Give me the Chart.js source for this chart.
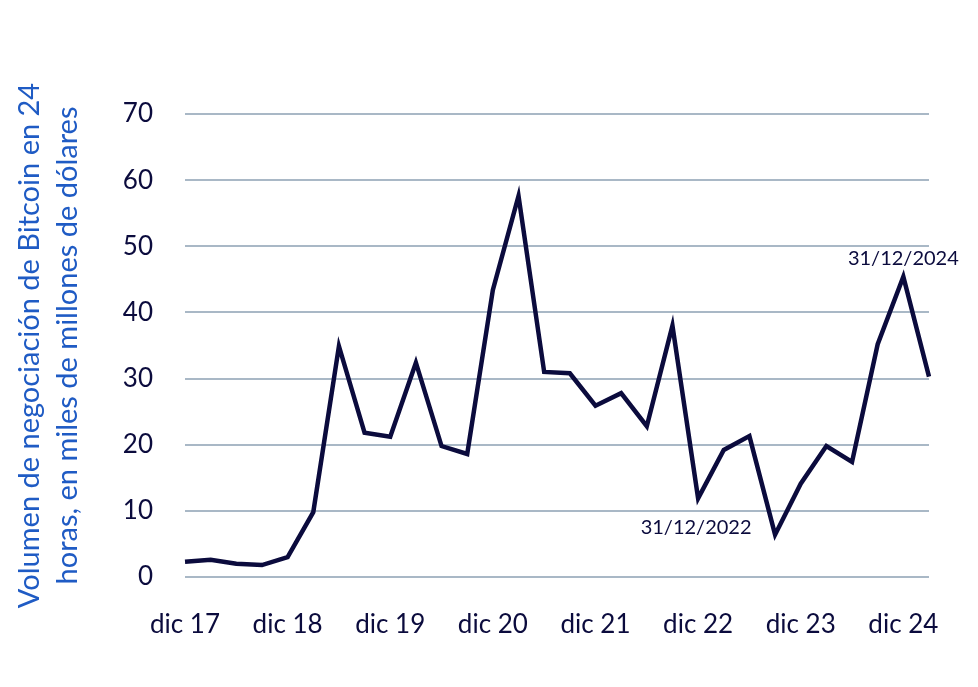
<!DOCTYPE html>
<html>
<head>
<meta charset="utf-8">
<script src="https://cdn.jsdelivr.net/npm/chart.js@4.4.1/dist/chart.umd.min.js"></script>
<style>
  html, body { margin: 0; padding: 0; background: #ffffff; }
  #wrap { width: 978px; height: 687px; }
</style>
</head>
<body>
<div id="wrap"><canvas id="chart" width="978" height="687"></canvas></div>
<script>
// trimestres, de dic 17 a mar 25
const quarters = [
  'dic 17', 'mar 18', 'jun 18', 'sep 18',
  'dic 18', 'mar 19', 'jun 19', 'sep 19',
  'dic 19', 'mar 20', 'jun 20', 'sep 20',
  'dic 20', 'mar 21', 'jun 21', 'sep 21',
  'dic 21', 'mar 22', 'jun 22', 'sep 22',
  'dic 22', 'mar 23', 'jun 23', 'sep 23',
  'dic 23', 'mar 24', 'jun 24', 'sep 24',
  'dic 24', 'mar 25'
];

// volumen 24h, miles de millones de dólares
const volume = [
  2.3, 2.6, 2.0, 1.8,
  3.0, 9.8, 34.9, 21.8,
  21.2, 32.4, 19.8, 18.6,
  43.4, 57.6, 31.0, 30.8,
  25.9, 27.8, 22.8, 38.0,
  11.9, 19.2, 21.3, 6.4,
  14.1, 19.8, 17.4, 35.2,
  45.4, 30.3
];

const yTicks = [0, 10, 20, 30, 40, 50, 60, 70];

// etiquetas de fecha sobre puntos concretos
const notes = [
  { index: 20, text: '31/12/2022', place: 'below' },
  { index: 28, text: '31/12/2024', place: 'above' }
];

const navy = '#0b0b3d';
const fontFamily = 'Lato, "Open Sans", sans-serif';

const notePlugin = {
  id: 'notes',
  afterDatasetsDraw(chart) {
    const { ctx, scales } = chart;
    ctx.save();
    ctx.font = '20px ' + fontFamily;
    ctx.fillStyle = navy;
    ctx.textAlign = 'center';
    notes.forEach(n => {
      const x = scales.x.getPixelForValue(n.index);
      const y = scales.y.getPixelForValue(volume[n.index]);
      if (n.place === 'above') {
        ctx.textBaseline = 'bottom';
        ctx.fillText(n.text, x, y - 8);
      } else {
        ctx.textBaseline = 'top';
        ctx.fillText(n.text, x - 2, y + 19);
      }
    });
    ctx.restore();
  }
};

new Chart(document.getElementById('chart'), {
  type: 'line',
  data: {
    labels: quarters,
    datasets: [{
      data: volume,
      borderColor: navy,
      borderWidth: 4.5,
      pointRadius: 0,
      tension: 0,
      fill: false
    }]
  },
  options: {
    responsive: false,
    animation: false,
    layout: { padding: { left: 0, top: 114, right: 49, bottom: 0 } },
    plugins: {
      legend: { display: false },
      tooltip: { enabled: false }
    },
    scales: {
      x: {
        type: 'category',
        offset: false,
        grid: { display: false },
        border: { display: false },
        ticks: {
          autoSkip: false,
          maxRotation: 0,
          padding: 24,
          color: navy,
          font: { family: fontFamily, size: 26 },
          callback: function (val, i) {
            return i % 4 === 0 ? quarters[i] : '';
          }
        },
        afterFit(scale) { scale.height = 110; }
      },
      y: {
        min: 0,
        max: 70,
        afterBuildTicks(scale) { scale.ticks = yTicks.map(v => ({ value: v })); },
        grid: { color: '#a9b8c6', lineWidth: 2, drawTicks: false },
        border: { display: false },
        ticks: {
          padding: 32,
          color: navy,
          font: { family: fontFamily, size: 26 }
        },
        title: {
          display: true,
          text: ['Volumen de negociación de Bitcoin en 24', 'horas, en miles de millones de dólares'],
          color: '#1f5bc4',
          font: { family: fontFamily, size: 29, lineHeight: 1.31 },
          padding: { top: 11, bottom: 0 }
        },
        afterFit(scale) { scale.width = 185; }
      }
    }
  },
  plugins: [notePlugin]
});
</script>
</body>
</html>
